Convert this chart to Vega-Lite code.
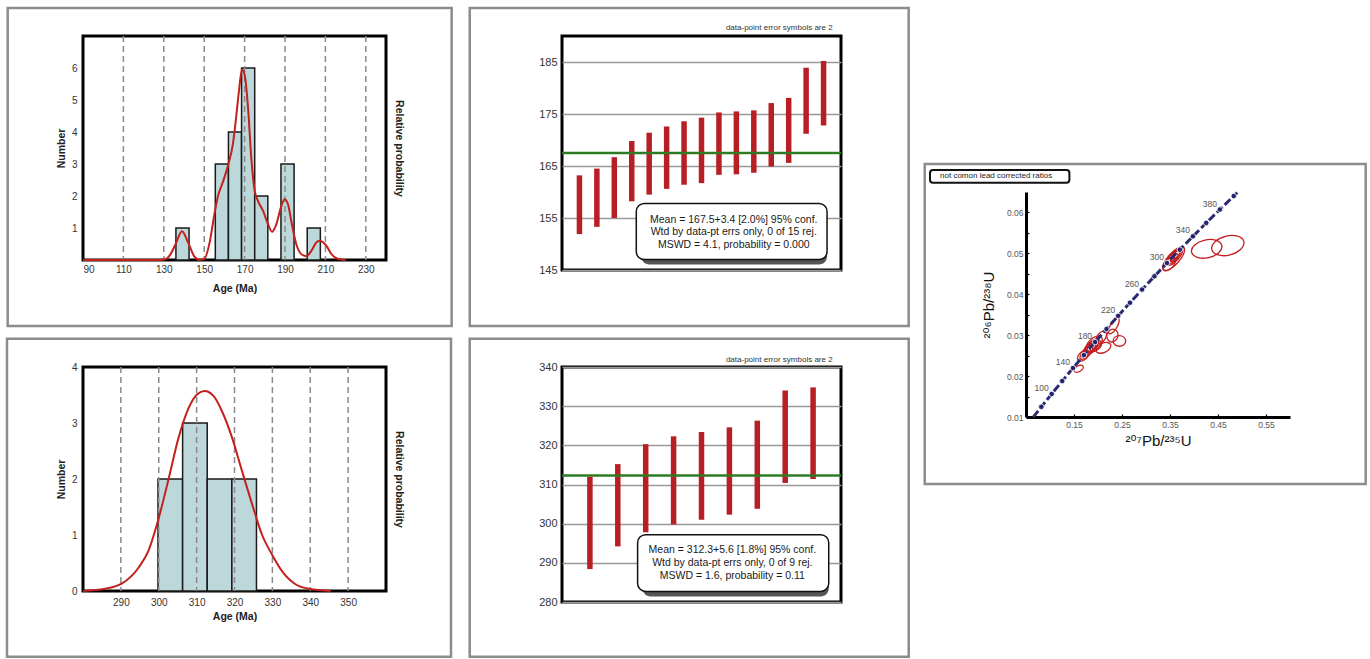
{
  "$schema": "https://vega.github.io/schema/vega-lite/v6.json",
  "background": "white",
  "padding": {"left": 4, "top": 5, "right": 0, "bottom": 0},
  "config": {
    "font": "Liberation Sans",
    "view": {"stroke": null},
    "axis": {"labelColor": "#333", "titleColor": "#222", "labelOverlap": false}
  },
  "datasets": {
    "conc": [
      {"t": 64, "x": 0.06506, "y": 0.00998},
      {"t": 80, "x": 0.08197, "y": 0.012487},
      {"t": 100, "x": 0.10350, "y": 0.015633},
      {"t": 120, "x": 0.12545, "y": 0.018789},
      {"t": 140, "x": 0.14784, "y": 0.021955},
      {"t": 160, "x": 0.17067, "y": 0.025131},
      {"t": 180, "x": 0.19396, "y": 0.028316},
      {"t": 200, "x": 0.21771, "y": 0.031511},
      {"t": 220, "x": 0.24193, "y": 0.034717},
      {"t": 240, "x": 0.26664, "y": 0.037932},
      {"t": 260, "x": 0.29183, "y": 0.041157},
      {"t": 280, "x": 0.31753, "y": 0.044392},
      {"t": 300, "x": 0.34374, "y": 0.047637},
      {"t": 320, "x": 0.37047, "y": 0.050892},
      {"t": 340, "x": 0.39773, "y": 0.054158},
      {"t": 360, "x": 0.42553, "y": 0.057434},
      {"t": 380, "x": 0.45389, "y": 0.060719},
      {"t": 400, "x": 0.48281, "y": 0.064015},
      {"t": 405, "x": 0.49013, "y": 0.064846}
    ]
  },
  "spacing": 11,
  "hconcat": [
    {
      "spacing": 6,
      "vconcat": [
        {
          "width": 303, "height": 224,
          "view": {"stroke": "#000", "strokeWidth": 3},
          "resolve": {"axis": {"x": "independent", "y": "independent"}},
          "layer": [
            {
              "data": {"values": [{"a": 52.72, "b": 272.5, "c": -2.06, "d": 7.875}]},
              "mark": {"type": "rect", "filled": false, "stroke": "#8c8c8c", "strokeWidth": 2.5},
              "encoding": {
                "x": {"field": "a", "type": "quantitative", "scale": {"domain": [90, 240], "nice": false, "zero": false}, "axis": null},
                "x2": {"field": "b"},
                "y": {"field": "c", "type": "quantitative", "scale": {"domain": [0, 7], "nice": false}, "axis": null},
                "y2": {"field": "d"}
              }
            },
            {
              "data": {"values": [
                {"lo": 136.0, "hi": 142.5, "n": 1},
                {"lo": 155.5, "hi": 162.0, "n": 3},
                {"lo": 162.0, "hi": 168.5, "n": 4},
                {"lo": 168.5, "hi": 175.0, "n": 6},
                {"lo": 175.0, "hi": 181.5, "n": 2},
                {"lo": 188.0, "hi": 194.5, "n": 3},
                {"lo": 201.0, "hi": 207.5, "n": 1}
              ]},
              "mark": {"type": "rect", "fill": "#bdd8db", "stroke": "#1a1a1a", "strokeWidth": 1.5},
              "encoding": {
                "x": {"field": "lo", "type": "quantitative", "scale": {"domain": [90, 240], "nice": false, "zero": false},
                  "axis": {"values": [90, 110, 130, 150, 170, 190, 210, 230], "ticks": false, "domain": false, "grid": false, "labelFontSize": 10, "labelPadding": 4, "title": "Age (Ma)", "titleFontSize": 10.5, "titleFontWeight": "bold", "titlePadding": 9}},
                "x2": {"field": "hi"},
                "y": {"field": "n", "type": "quantitative", "scale": {"domain": [0, 7], "nice": false},
                  "axis": {"values": [1, 2, 3, 4, 5, 6], "ticks": false, "domain": false, "grid": false, "labelFontSize": 10, "labelPadding": 6, "title": "Number", "titleFontSize": 10.5, "titleFontWeight": "bold", "titlePadding": 5}},
                "y2": {"datum": 0}
              }
            },
            {
              "data": {"values": [{"g": 110}, {"g": 130}, {"g": 150}, {"g": 170}, {"g": 190}, {"g": 210}, {"g": 230}]},
              "mark": {"type": "rule", "color": "#8a8a8a", "strokeWidth": 1.5, "strokeDash": [6, 4]},
              "encoding": {"x": {"field": "g", "type": "quantitative", "axis": null}}
            },
            {
              "data": {"values": [
                {"a": 90, "p": 0}, {"a": 128, "p": 0}, {"a": 131, "p": 0.03}, {"a": 133.5, "p": 0.2}, {"a": 136, "p": 0.52},
                {"a": 139, "p": 0.9}, {"a": 142.2, "p": 0.52}, {"a": 145, "p": 0.12}, {"a": 147.5, "p": 0.01}, {"a": 150, "p": 0.03},
                {"a": 152.6, "p": 0.52}, {"a": 155.1, "p": 1.45}, {"a": 156.7, "p": 1.97}, {"a": 159.2, "p": 2.43}, {"a": 162, "p": 3.0},
                {"a": 164.2, "p": 3.62}, {"a": 165.8, "p": 4.45}, {"a": 167.2, "p": 5.28}, {"a": 168.7, "p": 5.95}, {"a": 170, "p": 5.8},
                {"a": 171.7, "p": 4.76}, {"a": 173.3, "p": 3.2}, {"a": 175, "p": 2.16}, {"a": 176.6, "p": 1.85}, {"a": 179.1, "p": 1.54},
                {"a": 181.6, "p": 1.12}, {"a": 183.6, "p": 0.88}, {"a": 185.7, "p": 1.12}, {"a": 188.2, "p": 1.69}, {"a": 189.8, "p": 1.9},
                {"a": 191.5, "p": 1.74}, {"a": 193.1, "p": 1.22}, {"a": 195.6, "p": 0.49}, {"a": 198.1, "p": 0.18}, {"a": 200.6, "p": 0.12},
                {"a": 203.1, "p": 0.29}, {"a": 205.5, "p": 0.55}, {"a": 207.2, "p": 0.6}, {"a": 210.5, "p": 0.44}, {"a": 213, "p": 0.18},
                {"a": 216, "p": 0.04}, {"a": 220, "p": 0}
              ]},
              "mark": {"type": "line", "color": "#c4201c", "strokeWidth": 2, "interpolate": "monotone"},
              "encoding": {
                "x": {"field": "a", "type": "quantitative", "axis": null},
                "y": {"field": "p", "type": "quantitative",
                  "axis": {"orient": "right", "labels": false, "ticks": false, "domain": false, "grid": false, "title": "Relative probability", "titleFontSize": 10.5, "titleFontWeight": "bold", "titlePadding": 7}}
              }
            }
          ]
        },
        {
          "width": 303, "height": 224,
          "view": {"stroke": "#000", "strokeWidth": 3},
          "resolve": {"axis": {"x": "independent", "y": "independent"}},
          "layer": [
            {
              "data": {"values": [{"a": 259.93, "b": 377.16, "c": -1.173, "d": 4.505}]},
              "mark": {"type": "rect", "filled": false, "stroke": "#8c8c8c", "strokeWidth": 2.5},
              "encoding": {
                "x": {"field": "a", "type": "quantitative", "scale": {"domain": [280, 360], "nice": false, "zero": false}, "axis": null},
                "x2": {"field": "b"},
                "y": {"field": "c", "type": "quantitative", "scale": {"domain": [0, 4], "nice": false}, "axis": null},
                "y2": {"field": "d"}
              }
            },
            {
              "data": {"values": [
                {"lo": 299.8, "hi": 306.3, "n": 2},
                {"lo": 306.3, "hi": 312.8, "n": 3},
                {"lo": 312.8, "hi": 319.3, "n": 2},
                {"lo": 319.3, "hi": 325.8, "n": 2}
              ]},
              "mark": {"type": "rect", "fill": "#bdd8db", "stroke": "#1a1a1a", "strokeWidth": 1.5},
              "encoding": {
                "x": {"field": "lo", "type": "quantitative", "scale": {"domain": [280, 360], "nice": false, "zero": false},
                  "axis": {"values": [290, 300, 310, 320, 330, 340, 350], "ticks": false, "domain": false, "grid": false, "labelFontSize": 10, "labelPadding": 6, "title": "Age (Ma)", "titleFontSize": 10.5, "titleFontWeight": "bold", "titlePadding": 4}},
                "x2": {"field": "hi"},
                "y": {"field": "n", "type": "quantitative", "scale": {"domain": [0, 4], "nice": false},
                  "axis": {"values": [0, 1, 2, 3, 4], "ticks": false, "domain": false, "grid": false, "labelFontSize": 10, "labelPadding": 6, "title": "Number", "titleFontSize": 10.5, "titleFontWeight": "bold", "titlePadding": 5}},
                "y2": {"datum": 0}
              }
            },
            {
              "data": {"values": [{"g": 290}, {"g": 300}, {"g": 310}, {"g": 320}, {"g": 330}, {"g": 340}, {"g": 350}]},
              "mark": {"type": "rule", "color": "#8a8a8a", "strokeWidth": 1.5, "strokeDash": [6, 4]},
              "encoding": {"x": {"field": "g", "type": "quantitative", "axis": null}}
            },
            {
              "data": {"values": [
                {"a": 280, "p": 0}, {"a": 285.8, "p": 0.04}, {"a": 290.2, "p": 0.13}, {"a": 294.7, "p": 0.42}, {"a": 297.3, "p": 0.72},
                {"a": 299.9, "p": 1.28}, {"a": 302.6, "p": 2.0}, {"a": 305.2, "p": 2.73}, {"a": 307.9, "p": 3.27}, {"a": 310.1, "p": 3.51},
                {"a": 312.1, "p": 3.57}, {"a": 314.5, "p": 3.48}, {"a": 316.7, "p": 3.21}, {"a": 319.4, "p": 2.73}, {"a": 322, "p": 2.14},
                {"a": 324.7, "p": 1.54}, {"a": 327.3, "p": 1.0}, {"a": 330, "p": 0.64}, {"a": 332.6, "p": 0.35}, {"a": 336.1, "p": 0.12},
                {"a": 339.7, "p": 0.04}, {"a": 345.4, "p": 0}
              ]},
              "mark": {"type": "line", "color": "#c4201c", "strokeWidth": 2, "interpolate": "monotone"},
              "encoding": {
                "x": {"field": "a", "type": "quantitative", "axis": null},
                "y": {"field": "p", "type": "quantitative",
                  "axis": {"orient": "right", "labels": false, "ticks": false, "domain": false, "grid": false, "title": "Relative probability", "titleFontSize": 10.5, "titleFontWeight": "bold", "titlePadding": 7}}
              }
            }
          ]
        }
      ]
    },
    {
      "spacing": 6,
      "vconcat": [
        {
          "width": 279, "height": 234,
          "view": {"stroke": "#000", "strokeWidth": 3},
          "resolve": {"axis": {"x": "independent", "y": "independent"}},
          "layer": [
            {
              "data": {"values": [{"a": -5.29, "b": 19.88, "c": 134.23, "d": 195.38}]},
              "mark": {"type": "rect", "filled": false, "stroke": "#8c8c8c", "strokeWidth": 2.5},
              "encoding": {
                "x": {"field": "a", "type": "quantitative", "scale": {"domain": [0, 16], "nice": false, "zero": false}, "axis": null},
                "x2": {"field": "b"},
                "y": {"field": "c", "type": "quantitative", "scale": {"domain": [145, 190], "nice": false, "zero": false}, "axis": null},
                "y2": {"field": "d"}
              }
            },
            {
              "data": {"values": [{"tx": 15.52, "ty": 191.55, "t": "data-point error symbols are 2"}]},
              "mark": {"type": "text", "fontSize": 8, "color": "#333", "align": "right", "baseline": "middle"},
              "encoding": {
                "x": {"field": "tx", "type": "quantitative", "axis": null},
                "y": {"field": "ty", "type": "quantitative", "axis": null},
                "text": {"field": "t"}
              }
            },
            {
              "data": {"values": [
                {"i": 1, "lo": 151.9, "hi": 163.2}, {"i": 2, "lo": 153.3, "hi": 164.5}, {"i": 3, "lo": 155.0, "hi": 166.7},
                {"i": 4, "lo": 158.2, "hi": 169.8}, {"i": 5, "lo": 159.5, "hi": 171.4}, {"i": 6, "lo": 160.6, "hi": 172.6},
                {"i": 7, "lo": 161.4, "hi": 173.6}, {"i": 8, "lo": 161.7, "hi": 174.3}, {"i": 9, "lo": 163.3, "hi": 175.3},
                {"i": 10, "lo": 163.4, "hi": 175.5}, {"i": 11, "lo": 163.7, "hi": 175.7}, {"i": 12, "lo": 164.9, "hi": 177.1},
                {"i": 13, "lo": 165.6, "hi": 178.1}, {"i": 14, "lo": 171.2, "hi": 183.9}, {"i": 15, "lo": 172.8, "hi": 185.2}
              ]},
              "mark": {"type": "rule", "color": "#b81f24", "strokeWidth": 5.5},
              "encoding": {
                "x": {"field": "i", "type": "quantitative", "axis": null},
                "y": {"field": "lo", "type": "quantitative",
                  "axis": {"values": [145, 155, 165, 175, 185], "ticks": false, "domain": false, "grid": true, "gridColor": "#999", "gridWidth": 1.5, "labelFontSize": 11, "labelPadding": 5, "title": null}},
                "y2": {"field": "hi"}
              }
            },
            {
              "data": {"values": [{"m": 167.5}]},
              "mark": {"type": "rule", "color": "#2e7b24", "strokeWidth": 2.5},
              "encoding": {"y": {"field": "m", "type": "quantitative", "axis": null}}
            },
            {
              "data": {"values": [{"a": 4.26, "b": 15.2, "c": 147.0, "d": 157.8}]},
              "layer": [
                {"mark": {"type": "rect", "fill": "#555", "cornerRadius": 8, "xOffset": 5, "yOffset": 5}},
                {"mark": {"type": "rect", "fill": "white", "stroke": "#111", "strokeWidth": 1.5, "cornerRadius": 8}}
              ],
              "encoding": {
                "x": {"field": "a", "type": "quantitative", "axis": null},
                "x2": {"field": "b"},
                "y": {"field": "c", "type": "quantitative", "axis": null},
                "y2": {"field": "d"}
              }
            },
            {
              "data": {"values": [
                {"tx": 9.85, "ty": 154.7, "t": "Mean = 167.5+3.4 [2.0%] 95% conf."},
                {"tx": 9.85, "ty": 152.3, "t": "Wtd by data-pt errs only, 0 of 15 rej."},
                {"tx": 9.85, "ty": 149.9, "t": "MSWD = 4.1, probability = 0.000"}
              ]},
              "mark": {"type": "text", "fontSize": 10.5, "color": "#1a1a1a", "align": "center", "baseline": "middle"},
              "encoding": {
                "x": {"field": "tx", "type": "quantitative", "axis": null},
                "y": {"field": "ty", "type": "quantitative", "axis": null},
                "text": {"field": "t"}
              }
            }
          ]
        },
        {
          "width": 279, "height": 235,
          "view": {"stroke": "#000", "strokeWidth": 3},
          "resolve": {"axis": {"x": "independent", "y": "independent"}},
          "layer": [
            {
              "data": {"values": [{"a": -3.308, "b": 12.427, "c": 266.03, "d": 347.23}]},
              "mark": {"type": "rect", "filled": false, "stroke": "#8c8c8c", "strokeWidth": 2.5},
              "encoding": {
                "x": {"field": "a", "type": "quantitative", "scale": {"domain": [0, 10], "nice": false, "zero": false}, "axis": null},
                "x2": {"field": "b"},
                "y": {"field": "c", "type": "quantitative", "scale": {"domain": [280, 340], "nice": false, "zero": false}, "axis": null},
                "y2": {"field": "d"}
              }
            },
            {
              "data": {"values": [{"tx": 9.70, "ty": 341.8, "t": "data-point error symbols are 2"}]},
              "mark": {"type": "text", "fontSize": 8, "color": "#333", "align": "right", "baseline": "middle"},
              "encoding": {
                "x": {"field": "tx", "type": "quantitative", "axis": null},
                "y": {"field": "ty", "type": "quantitative", "axis": null},
                "text": {"field": "t"}
              }
            },
            {
              "data": {"values": [
                {"i": 1, "lo": 288.4, "hi": 312.0}, {"i": 2, "lo": 294.2, "hi": 315.2}, {"i": 3, "lo": 297.8, "hi": 320.3},
                {"i": 4, "lo": 299.8, "hi": 322.3}, {"i": 5, "lo": 301.0, "hi": 323.4}, {"i": 6, "lo": 302.3, "hi": 324.6},
                {"i": 7, "lo": 303.8, "hi": 326.3}, {"i": 8, "lo": 310.4, "hi": 334.0}, {"i": 9, "lo": 311.4, "hi": 334.8}
              ]},
              "mark": {"type": "rule", "color": "#b81f24", "strokeWidth": 5.5},
              "encoding": {
                "x": {"field": "i", "type": "quantitative", "axis": null},
                "y": {"field": "lo", "type": "quantitative",
                  "axis": {"values": [280, 290, 300, 310, 320, 330, 340], "ticks": false, "domain": false, "grid": true, "gridColor": "#999", "gridWidth": 1.5, "labelFontSize": 11, "labelPadding": 5, "title": null}},
                "y2": {"field": "hi"}
              }
            },
            {
              "data": {"values": [{"m": 312.3}]},
              "mark": {"type": "rule", "color": "#2e7b24", "strokeWidth": 2.5},
              "encoding": {"y": {"field": "m", "type": "quantitative", "axis": null}}
            },
            {
              "data": {"values": [{"a": 2.71, "b": 9.56, "c": 282.7, "d": 297.2}]},
              "layer": [
                {"mark": {"type": "rect", "fill": "#555", "cornerRadius": 8, "xOffset": 5, "yOffset": 5}},
                {"mark": {"type": "rect", "fill": "white", "stroke": "#111", "strokeWidth": 1.5, "cornerRadius": 8}}
              ],
              "encoding": {
                "x": {"field": "a", "type": "quantitative", "axis": null},
                "x2": {"field": "b"},
                "y": {"field": "c", "type": "quantitative", "axis": null},
                "y2": {"field": "d"}
              }
            },
            {
              "data": {"values": [
                {"tx": 6.105, "ty": 293.3, "t": "Mean = 312.3+5.6 [1.8%] 95% conf."},
                {"tx": 6.105, "ty": 290.0, "t": "Wtd by data-pt errs only, 0 of 9 rej."},
                {"tx": 6.105, "ty": 286.7, "t": "MSWD = 1.6, probability = 0.11"}
              ]},
              "mark": {"type": "text", "fontSize": 10.5, "color": "#1a1a1a", "align": "center", "baseline": "middle"},
              "encoding": {
                "x": {"field": "tx", "type": "quantitative", "axis": null},
                "y": {"field": "ty", "type": "quantitative", "axis": null},
                "text": {"field": "t"}
              }
            }
          ]
        }
      ]
    },
    {
      "spacing": 0,
      "vconcat": [
        {
          "width": 20, "height": 126,
          "data": {"values": [{"s": ""}]},
          "mark": {"type": "text"},
          "encoding": {"text": {"field": "s"}}
        },
        {
          "width": 264, "height": 225,
          "resolve": {"axis": {"x": "independent", "y": "independent"}},
          "layer": [
            {
              "data": {"values": [{"a": -0.161, "b": 0.7577, "c": -0.00638, "d": 0.07184}]},
              "mark": {"type": "rect", "filled": false, "stroke": "#8c8c8c", "strokeWidth": 2.5},
              "encoding": {
                "x": {"field": "a", "type": "quantitative", "scale": {"domain": [0.05, 0.6], "nice": false, "zero": false}, "axis": null},
                "x2": {"field": "b"},
                "y": {"field": "c", "type": "quantitative", "scale": {"domain": [0.01, 0.065], "nice": false, "zero": false}, "axis": null},
                "y2": {"field": "d"}
              }
            },
            {
              "data": {"values": [{"a": -0.15, "b": 0.1404, "c": 0.06727, "d": 0.07038}]},
              "mark": {"type": "rect", "fill": "white", "stroke": "#111", "strokeWidth": 2, "cornerRadius": 3},
              "encoding": {
                "x": {"field": "a", "type": "quantitative", "axis": null},
                "x2": {"field": "b"},
                "y": {"field": "c", "type": "quantitative", "axis": null},
                "y2": {"field": "d"}
              }
            },
            {
              "data": {"values": [{"tx": -0.129, "ty": 0.06883, "t": "not comon lead corrected ratios"}]},
              "mark": {"type": "text", "fontSize": 8, "color": "#222", "align": "left", "baseline": "middle"},
              "encoding": {
                "x": {"field": "tx", "type": "quantitative", "axis": null},
                "y": {"field": "ty", "type": "quantitative", "axis": null},
                "text": {"field": "t"}
              }
            },
            {
              "data": {"values": [
                {"x": 0.1598, "y": 0.0218, "e": 0.0104, "k": "m", "r": 330},
                {"x": 0.1696, "y": 0.0250, "e": 0.0146, "k": "m", "r": 320},
                {"x": 0.176, "y": 0.0258, "e": 0.0188, "k": "t", "r": 312},
                {"x": 0.181, "y": 0.0264, "e": 0.0208, "k": "t", "r": 312},
                {"x": 0.185, "y": 0.0270, "e": 0.0229, "k": "t", "r": 312},
                {"x": 0.189, "y": 0.0274, "e": 0.0167, "k": "t", "r": 312},
                {"x": 0.192, "y": 0.0278, "e": 0.0208, "k": "m", "r": 315},
                {"x": 0.183, "y": 0.0268, "e": 0.0146, "k": "m", "r": 312},
                {"x": 0.195, "y": 0.0273, "e": 0.0146, "k": "m", "r": 320},
                {"x": 0.2112, "y": 0.0269, "e": 0.0167, "k": "m", "r": 335},
                {"x": 0.207, "y": 0.0295, "e": 0.0146, "k": "m", "r": 305},
                {"x": 0.230, "y": 0.0299, "e": 0.0135, "k": "r", "r": 290},
                {"x": 0.2446, "y": 0.0286, "e": 0.0131, "k": "r", "r": 0},
                {"x": 0.2330, "y": 0.0323, "e": 0.0188, "k": "t", "r": 300},
                {"x": 0.3577, "y": 0.0487, "e": 0.03125, "k": "t", "r": 312},
                {"x": 0.360, "y": 0.0492, "e": 0.0229, "k": "t", "r": 312},
                {"x": 0.3479, "y": 0.0474, "e": 0.0167, "k": "m", "r": 312},
                {"x": 0.362, "y": 0.0496, "e": 0.0146, "k": "t", "r": 312},
                {"x": 0.365, "y": 0.0499, "e": 0.0125, "k": "t", "r": 312},
                {"x": 0.356, "y": 0.0490, "e": 0.0188, "k": "t", "r": 315},
                {"x": 0.359, "y": 0.0489, "e": 0.0104, "k": "m", "r": 312},
                {"x": 0.4265, "y": 0.0511, "e": 0.0323, "k": "m", "r": 348},
                {"x": 0.4705, "y": 0.0519, "e": 0.0344, "k": "m", "r": 346}
              ]},
              "mark": {"type": "point", "filled": false, "color": "#c41e1e", "strokeWidth": 1.3, "opacity": 1},
              "encoding": {
                "x": {"field": "x", "type": "quantitative", "axis": null},
                "y": {"field": "y", "type": "quantitative", "axis": null},
                "size": {"field": "e", "type": "quantitative", "scale": {"type": "pow", "exponent": 2, "domain": [0, 0.05], "range": [0, 2304]}, "legend": null},
                "angle": {"field": "r", "type": "quantitative", "scale": {"domain": [0, 360], "range": [0, 360]}},
                "shape": {"field": "k", "type": "nominal", "legend": null, "scale": {"domain": ["t", "m", "r"], "range": [
                  "M-1,0C-1,-0.21,-0.552,-0.38,0,-0.38C0.552,-0.38,1,-0.21,1,0C1,0.21,0.552,0.38,0,0.38C-0.552,0.38,-1,0.21,-1,0Z",
                  "M-1,0C-1,-0.32,-0.552,-0.58,0,-0.58C0.552,-0.58,1,-0.32,1,0C1,0.32,0.552,0.58,0,0.58C-0.552,0.58,-1,0.32,-1,0Z",
                  "M-1,0C-1,-0.47,-0.552,-0.85,0,-0.85C0.552,-0.85,1,-0.47,1,0C1,0.47,0.552,0.85,0,0.85C-0.552,0.85,-1,0.47,-1,0Z"
                ]}}
              }
            },
            {
              "data": {"name": "conc"},
              "mark": {"type": "line", "color": "#2a2a72", "strokeWidth": 3, "strokeDash": [8, 3]},
              "encoding": {
                "x": {"field": "x", "type": "quantitative",
                  "axis": {"values": [0.15, 0.25, 0.35, 0.45, 0.55], "format": ".2f", "domainColor": "#000", "domainWidth": 3, "tickColor": "#000", "tickSize": -3, "tickWidth": 1.2, "labelPadding": 6, "labelFontSize": 8.5, "labelColor": "#555", "grid": false,
                    "title": "²⁰⁷Pb/²³⁵U", "titleFont": "Liberation Sans, DejaVu Sans", "titleFontSize": 15, "titleFontWeight": "normal", "titleColor": "#111", "titlePadding": 5}},
                "y": {"field": "y", "type": "quantitative",
                  "axis": {"values": [0.01, 0.015, 0.02, 0.025, 0.03, 0.035, 0.04, 0.045, 0.05, 0.055, 0.06], "labelExpr": "abs(datum.value*100 - round(datum.value*100)) < 0.01 ? format(datum.value, '.2f') : ''", "domainColor": "#000", "domainWidth": 3, "tickColor": "#000", "tickSize": -3, "tickWidth": 1.2, "labelPadding": 6, "labelFontSize": 8.5, "labelColor": "#555", "grid": false,
                    "title": "²⁰⁶Pb/²³⁸U", "titleFont": "Liberation Sans, DejaVu Sans", "titleFontSize": 15, "titleFontWeight": "normal", "titleColor": "#111", "titlePadding": 10}},
                "order": {"field": "t", "type": "quantitative"}
              }
            },
            {
              "data": {"name": "conc"},
              "transform": [{"filter": "datum.t >= 80 && datum.t <= 400"}],
              "mark": {"type": "point", "filled": true, "color": "#23236b", "size": 30, "stroke": "white", "strokeWidth": 0.8, "opacity": 1},
              "encoding": {
                "x": {"field": "x", "type": "quantitative", "axis": null},
                "y": {"field": "y", "type": "quantitative", "axis": null}
              }
            },
            {
              "data": {"name": "conc"},
              "transform": [{"filter": "datum.t % 40 == 20 && datum.t >= 100 && datum.t <= 380"}],
              "mark": {"type": "text", "fontSize": 8.5, "color": "#555", "align": "right", "baseline": "middle", "dx": -3, "dy": -6},
              "encoding": {
                "x": {"field": "x", "type": "quantitative", "axis": null},
                "y": {"field": "y", "type": "quantitative", "axis": null},
                "text": {"field": "t", "type": "quantitative"}
              }
            }
          ]
        }
      ]
    }
  ]
}
